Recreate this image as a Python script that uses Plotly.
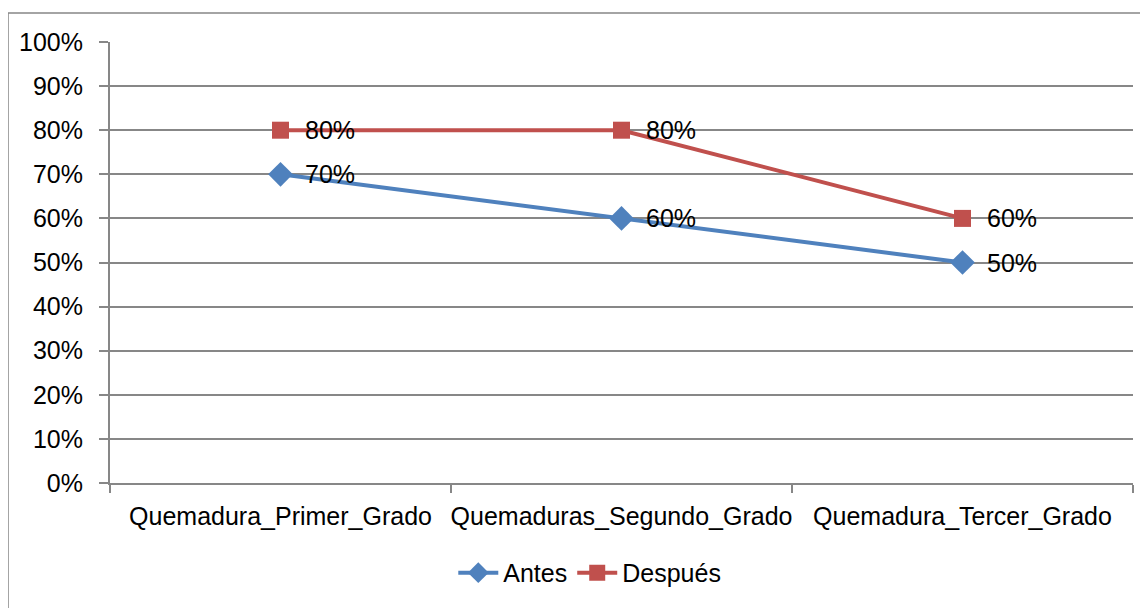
import plotly.graph_objects as go

categorias = ["Quemadura_Primer_Grado", "Quemaduras_Segundo_Grado", "Quemadura_Tercer_Grado"]
antes = [0.70, 0.60, 0.50]
despues = [0.80, 0.80, 0.60]

FONT = "Liberation Sans"
AZUL = "#4F81BD"
ROJO = "#C0504D"
GRIS = "#878787"

fig = go.Figure()
fig.add_trace(go.Scatter(x=categorias, y=antes, name="Antes", mode="lines+markers",
                         line=dict(color=AZUL, width=4),
                         marker=dict(symbol="diamond", size=19, color=AZUL)))
fig.add_trace(go.Scatter(x=categorias, y=despues, name="Después", mode="lines+markers",
                         line=dict(color=ROJO, width=4),
                         marker=dict(symbol="square", size=17, color=ROJO)))

# etiquetas de datos a la derecha de cada punto
anns = []
for serie in (antes, despues):
    for c, v in zip(categorias, serie):
        anns.append(dict(x=c, y=v, text=f"{v:.0%}", showarrow=False,
                         xanchor="left", yanchor="middle", xshift=22,
                         font=dict(family=FONT, size=25, color="black")))

# la página tiene 8px de margen, así que la figura ocupa 1140x600
fig.update_layout(
    width=1140, height=600,
    margin=dict(l=102, r=15, t=34, b=125),
    paper_bgcolor="white", plot_bgcolor="white",
    font=dict(family=FONT, size=25, color="black"),
    annotations=anns,
    showlegend=True,
    legend=dict(orientation="h", x=0.469, xanchor="center", y=-0.204, yanchor="middle",
                font=dict(size=25), itemwidth=40, tracegroupgap=0),
    shapes=[dict(type="rect", xref="paper", yref="paper",
                 x0=-0.0997, x1=1.1, y0=-0.4, y1=1.0658,
                 line=dict(color=GRIS, width=1.5), layer="below")],
)
fig.update_xaxes(range=[-0.5, 2.5], automargin=False, tickangle=0, showline=True, linecolor=GRIS,
                 linewidth=2, showgrid=False, ticks="outside", tickson="boundaries", ticklen=8,
                 tickcolor=GRIS, tickwidth=2, ticklabelstandoff=10)
fig.update_yaxes(range=[0, 1], dtick=0.1, tickformat=".0%", automargin=False, showline=True,
                 linecolor=GRIS, linewidth=2, showgrid=True, gridcolor=GRIS, gridwidth=2,
                 zeroline=False, ticks="outside", ticklen=9, tickcolor=GRIS, tickwidth=2,
                 ticklabelstandoff=11)

fig.write_html("out.html")
